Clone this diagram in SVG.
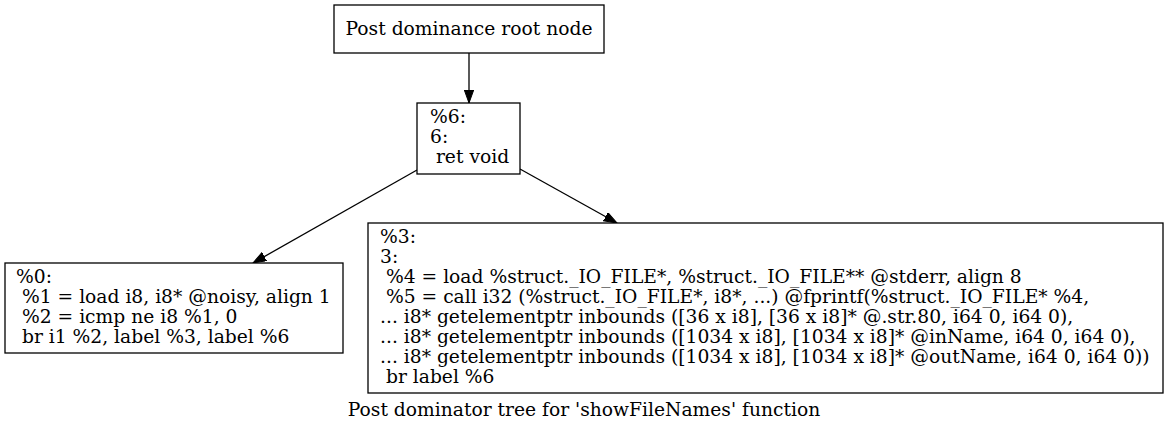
<svg xmlns="http://www.w3.org/2000/svg" width="1168" height="431" viewBox="0 0 1168 431">
<style>
text{font-family:"DejaVu Serif","Liberation Serif",serif;font-size:18.7px;fill:#000;white-space:pre}
.box{fill:#fff;stroke:#000;stroke-width:1.3}
.edge{fill:none;stroke:#000;stroke-width:1.3}
</style>
<defs>
<marker id="arr" markerUnits="userSpaceOnUse" markerWidth="14" markerHeight="10" refX="13" refY="4.7" orient="auto">
<path d="M0,0 L13,4.7 L0,9.4 z" fill="#000" stroke="#000" stroke-width="1"/>
</marker>
</defs>
<rect width="1168" height="431" fill="#fff"/>
<g id="edges">
<line class="edge" x1="469" y1="53" x2="469" y2="103" marker-end="url(#arr)"/>
<line class="edge" x1="417" y1="170" x2="253" y2="263" marker-end="url(#arr)"/>
<line class="edge" x1="520" y1="169" x2="617" y2="223" marker-end="url(#arr)"/>
</g>
<g id="root">
<rect class="box" x="334" y="5" width="270" height="48"/>
<text x="469" y="35" text-anchor="middle">Post dominance root node</text>
</g>
<g id="n6">
<rect class="box" x="417" y="103" width="103" height="71"/>
<text x="430" y="123">%6:</text>
<text x="430" y="143">6:</text>
<text x="430" y="163" xml:space="preserve"> ret void</text>
</g>
<g id="n0">
<rect class="box" x="5" y="263" width="338" height="90"/>
<text x="16" y="283">%0:</text>
<text x="16" y="303" xml:space="preserve"> %1 = load i8, i8* @noisy, align 1</text>
<text x="16" y="323" xml:space="preserve"> %2 = icmp ne i8 %1, 0</text>
<text x="16" y="343" xml:space="preserve"> br i1 %2, label %3, label %6</text>
</g>
<g id="n3">
<rect class="box" x="368" y="223" width="795" height="170"/>
<text x="380" y="243">%3:</text>
<text x="380" y="263">3:</text>
<text x="380" y="283" xml:space="preserve"> %4 = load %struct._IO_FILE*, %struct._IO_FILE** @stderr, align 8</text>
<text x="380" y="303" xml:space="preserve"> %5 = call i32 (%struct._IO_FILE*, i8*, ...) @fprintf(%struct._IO_FILE* %4, </text>
<text x="380" y="323">... i8* getelementptr inbounds ([36 x i8], [36 x i8]* @.str.80, i64 0, i64 0), </text>
<text x="380" y="343">... i8* getelementptr inbounds ([1034 x i8], [1034 x i8]* @inName, i64 0, i64 0), </text>
<text x="380" y="363">... i8* getelementptr inbounds ([1034 x i8], [1034 x i8]* @outName, i64 0, i64 0))</text>
<text x="380" y="383" xml:space="preserve"> br label %6</text>
</g>
<g id="caption">
<text x="584" y="416" text-anchor="middle">Post dominator tree for 'showFileNames' function</text>
</g>
</svg>
